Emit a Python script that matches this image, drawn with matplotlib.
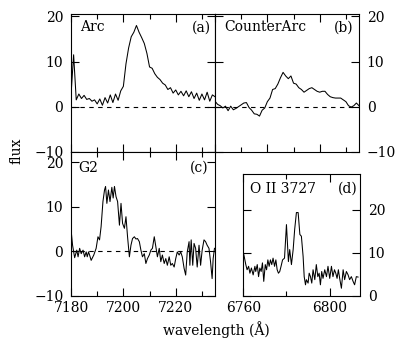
import numpy as np
import matplotlib as mpl
mpl.use('Agg')
import matplotlib.pyplot as plt
from matplotlib.ticker import MultipleLocator

# panel (a) Arc
wl_a = np.arange(7180, 7236, 1.0)
flux_a = [2.5, 11.5, 1.5, 2.8, 1.8, 2.5, 1.6, 1.8, 1.2, 1.5,
          0.6, 1.7, 0.3, 2.0, 0.8, 2.6, 0.9, 2.8, 1.4, 3.5,
          4.5, 9.5, 13.0, 15.5, 16.5, 18.0, 16.5, 15.3, 14.0, 11.8,
          8.8, 8.5, 7.3, 6.5, 6.0, 5.2, 4.8, 3.8, 4.2, 3.0,
          3.7, 2.6, 3.4, 2.4, 3.5, 2.2, 3.3, 1.8, 3.0, 1.4,
          2.8, 1.5, 3.2, 1.2, 2.6, 2.2]

# panel (b) CounterArc
wl_b = np.arange(7180, 7236, 1.0)
flux_b = [1.2, 0.5, 0.2, -0.3, 0.1, -0.9, 0.1, -0.7, -0.4, 0.0,
          0.4, 0.8, 0.9, -0.2, -0.8, -1.6, -1.7, -2.1, -0.8, -0.3,
          1.1, 1.9, 3.8, 4.0, 5.0, 6.4, 7.6, 6.8, 6.2, 6.8,
          5.2, 5.0, 4.2, 3.8, 3.2, 3.6, 4.0, 4.2, 3.8, 3.4,
          3.2, 3.4, 3.4, 2.7, 2.2, 2.0, 1.9, 1.9, 1.9, 1.5,
          1.1, 0.2, -0.1, 0.2, 0.8, 0.2]

# panel (c) G2
wl_c = [7180.1, 7180.6, 7181.4, 7182.2, 7182.7, 7183.3, 7183.9, 7184.6, 7185.2, 7185.8,
        7186.2, 7186.7, 7187.2, 7187.7, 7188.7, 7189.6, 7190.3, 7190.9, 7191.5, 7192.2,
        7192.8, 7193.2, 7193.7, 7194.3, 7194.9, 7195.6, 7196.1, 7196.6, 7197.2, 7197.8,
        7198.5, 7199.1, 7199.7, 7200.4, 7201.0, 7201.6, 7202.3, 7202.9, 7203.5, 7204.2,
        7204.8, 7205.4, 7206.1, 7206.7, 7207.3, 7208.0, 7208.6, 7209.2, 7209.9, 7210.5,
        7211.1, 7211.8, 7212.4, 7213.0, 7213.7, 7214.3, 7214.9, 7215.6, 7216.2, 7216.8,
        7217.5, 7218.1, 7218.7, 7219.4, 7220.0, 7220.6, 7221.3, 7221.9, 7222.5, 7223.2,
        7223.8, 7224.4, 7225.1, 7225.4, 7225.9, 7226.5, 7227.0, 7227.6, 7228.2, 7228.9,
        7229.5, 7230.1, 7230.8, 7231.4, 7232.0, 7232.7, 7233.3, 7233.9, 7234.3, 7234.8]
flux_c = [4.4, 1.4, -1.4, 0.3, -1.2, 0.7, -0.5, 0.3, -1.2, -0.1,
          -1.2, -0.1, -1.0, -2.0, -0.8, 0.7, 3.3, 2.6, 5.6, 11.2,
          13.8, 14.6, 10.8, 13.8, 11.2, 14.4, 12.0, 14.6, 12.3, 11.2,
          5.9, 10.8, 6.3, 5.2, 7.8, 3.3, -1.2, 1.4, 2.9, 3.3,
          2.8, 2.9, 2.2, 0.3, -1.2, -0.5, -2.7, -1.6, -0.8, 0.3,
          0.7, 3.3, 1.1, -1.2, 0.7, -2.3, -0.8, -2.7, -1.6, -3.1,
          -1.2, -3.1, -2.7, -3.5, -1.6, -0.1, -0.8, -0.1, -1.2, -3.8,
          -5.3, -0.1, 2.2, -3.1, 2.6, -3.1, 1.8, 0.7, -3.5, 1.4,
          -3.1, 0.3, 2.6, 2.2, 1.4, 0.7, -2.3, -6.1, -1.6, 0.7]

# panel (d) O II 3727
wl_d = [6760.3, 6761.2, 6761.8, 6762.5, 6763.1, 6763.8, 6764.6, 6765.4, 6765.8, 6766.5,
        6767.1, 6767.7, 6768.3, 6768.9, 6769.5, 6770.2, 6770.8, 6771.4, 6772.0, 6772.6,
        6773.2, 6773.8, 6774.5, 6775.1, 6775.7, 6776.3, 6776.9, 6777.5, 6778.2, 6779.1,
        6780.0, 6780.9, 6781.5, 6782.3, 6783.1, 6783.8, 6784.6, 6785.4, 6786.2, 6786.9,
        6787.7, 6788.2, 6788.8, 6789.2, 6790.0, 6790.5, 6791.1, 6791.7, 6792.3, 6793.1,
        6793.8, 6794.5, 6795.1, 6795.7, 6796.3, 6796.9, 6797.7, 6798.5, 6799.2, 6800.0,
        6800.8, 6801.5, 6802.2, 6802.8, 6803.4, 6804.0, 6804.6, 6805.4, 6806.2, 6806.9,
        6807.7, 6808.5, 6809.2, 6810.0, 6810.8, 6811.5, 6812.3, 6813.1]
flux_d = [9.6, 7.3, 6.1, 6.9, 5.3, 6.5, 4.9, 6.9, 5.7, 7.3,
          4.5, 6.5, 5.7, 7.7, 3.4, 7.3, 6.1, 8.4, 6.9, 8.4,
          7.3, 8.8, 6.9, 8.4, 6.1, 5.3, 5.7, 6.9, 8.4, 8.8,
          16.6, 8.0, 10.8, 7.3, 10.8, 15.5, 19.4, 19.4, 14.3, 13.9,
          9.2, 4.5, 2.6, 3.8, 3.0, 5.3, 4.5, 3.0, 6.1, 3.8,
          7.3, 4.5, 5.3, 2.6, 5.7, 4.1, 6.1, 4.5, 6.9, 4.1,
          6.9, 4.5, 6.1, 5.3, 4.1, 6.1, 4.1, 1.8, 6.1, 3.8,
          5.7, 4.9, 3.8, 4.5, 3.4, 2.6, 4.5, 4.4]

labels = ['Arc', 'CounterArc', 'G2', 'O II 3727']
tags = ['(a)', '(b)', '(c)', '(d)']
# label placement inside each panel (axes fraction)
lab_x = [0.0625, 0.0625, 0.05, 0.057]
tag_x = [0.97, 0.965, 0.955, 0.98]
txt_y = [0.905, 0.905, 0.89, 0.88]

plt.rcParams['font.family'] = ['DejaVu Serif']
plt.rcParams['font.size'] = 10
plt.rcParams['axes.linewidth'] = 0.8

fig = plt.figure(figsize=(4.0, 3.49), dpi=100)
ax_a = fig.add_axes([0.1775, 0.5653, 0.36, 0.394])
ax_b = fig.add_axes([0.5375, 0.5653, 0.36, 0.394])
ax_c = fig.add_axes([0.1775, 0.1519, 0.36, 0.4134])
ax_d = fig.add_axes([0.608, 0.1519, 0.292, 0.3487])

data = [(ax_a, wl_a, flux_a), (ax_b, wl_b, flux_b), (ax_c, wl_c, flux_c), (ax_d, wl_d, flux_d)]
for i, (ax, x, y) in enumerate(data):
    ax.plot(x, y, color='black', lw=0.75)
    ax.tick_params(which='both', direction='in', top=True, right=True)
    ax.tick_params(axis='y', pad=5.5)
    ax.tick_params(axis='x', pad=3.5)
    ax.tick_params(which='major', length=6, width=0.8)
    ax.tick_params(which='minor', length=3.5, width=0.8)
    ax.yaxis.set_major_locator(MultipleLocator(10))
    ax.text(lab_x[i], txt_y[i], labels[i], transform=ax.transAxes, ha='left', va='center')
    ax.text(tag_x[i], txt_y[i], tags[i], transform=ax.transAxes, ha='right', va='center')

for ax in (ax_a, ax_b, ax_c):
    ax.set_xlim(7180, 7235)
    ax.xaxis.set_major_locator(MultipleLocator(20))
    ax.xaxis.set_minor_locator(MultipleLocator(10))
    ax.axhline(0, color='black', lw=0.8, ls=(0, (4, 4)))

ax_a.set_ylim(-10, 20.5)
ax_b.set_ylim(-10, 20.5)
ax_c.set_ylim(-10, 22.4)
ax_a.tick_params(labelbottom=False)
ax_b.tick_params(labelbottom=False, labelleft=False, labelright=True)

ax_d.set_xlim(6760, 6814)
ax_d.set_ylim(0, 28.3)
ax_d.xaxis.set_major_locator(MultipleLocator(40))
ax_d.xaxis.set_minor_locator(MultipleLocator(20))
ax_d.tick_params(labelleft=False, labelright=True)

fig.text(0.04, 0.567, 'flux', rotation=90, ha='center', va='center')
fig.text(0.54, 0.055, 'wavelength (Å)', ha='center', va='center')

plt.savefig('out.png', dpi=100)
